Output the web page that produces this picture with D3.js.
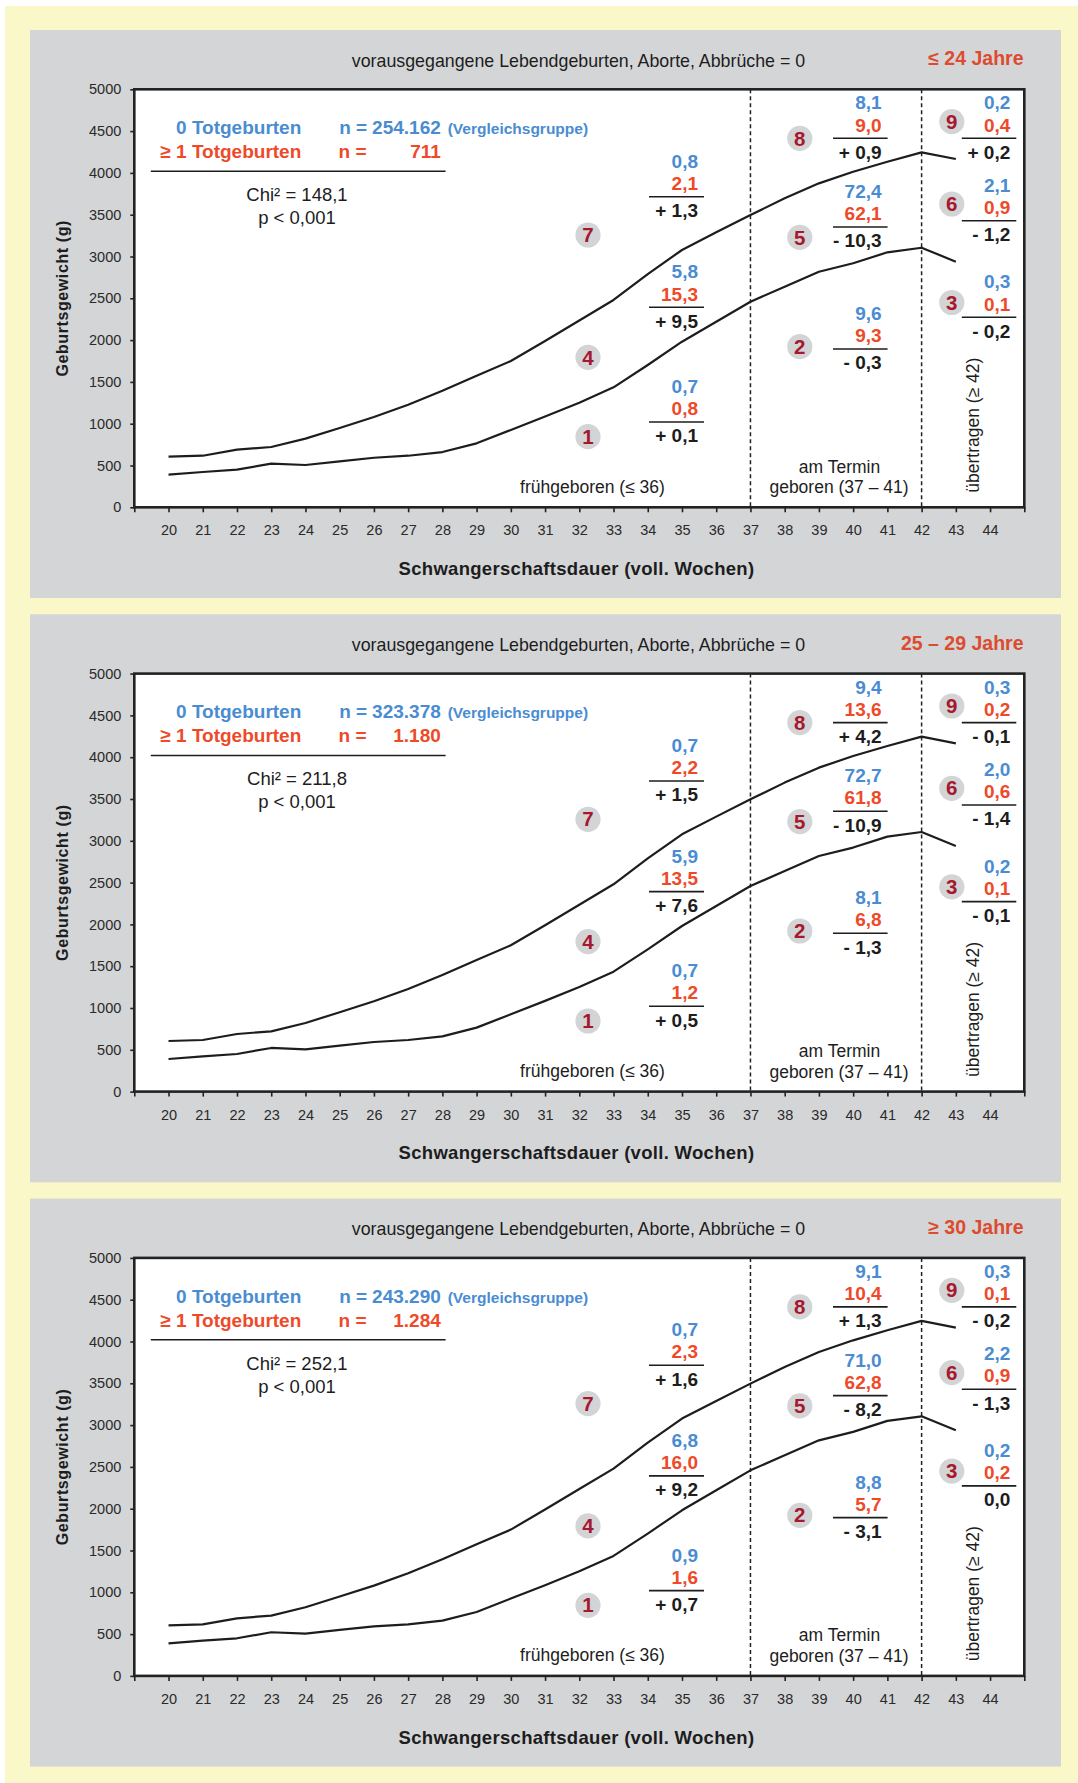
<!DOCTYPE html>
<html><head><meta charset="utf-8">
<script src="https://cdn.jsdelivr.net/npm/d3@7"></script>
<style>
html,body{margin:0;padding:0;background:#fff;}
svg{display:block;}
text{font-family:"Liberation Sans",Arial,Helvetica,sans-serif;}
</style></head><body>
<svg id="chart" width="1078" height="1783"></svg>
<script>
// Gestational age (completed weeks) and reference birth-weight curves (g)
const weeks      = [20,21,22,23,24,25,26,27,28,29,30,31,32,33,34,35,36,37,38,39,40,41,42,43];
const upperCurve = [605,617,689,721,821,949,1080,1227,1395,1574,1750,1990,2235,2480,2790,3078,3289,3496,3696,3875,4014,4134,4246,4166];
const lowerCurve = [390,422,450,522,506,550,593,617,661,765,925,1085,1251,1435,1702,1981,2220,2459,2639,2818,2919,3050,3105,2938];

const tickWeeks     = [19,20,21,22,23,24,25,26,27,28,29,30,31,32,33,34,35,36,37,38,39,40,41,42,43,44,45];
const labelledWeeks = [20,21,22,23,24,25,26,27,28,29,30,31,32,33,34,35,36,37,38,39,40,41,42,43,44];
const yTicks        = [0,500,1000,1500,2000,2500,3000,3500,4000,4500,5000];
const termBounds    = [37,42];

// One panel per maternal age group
const ageGroups   = ["≤ 24 Jahre", "25 – 29 Jahre", "≥ 30 Jahre"];
const nReference  = [254162, 323378, 243290];
const nStillbirth = [711, 1180, 1284];
const chiSquare   = [148.1, 211.8, 252.1];

// Cells 1..9 (percent of births); reference group, ≥1 stillbirth, difference
const cellIds = [1,2,3,4,5,6,7,8,9];
const shareReference = [
  [0.7, 9.6, 0.3, 5.8, 72.4, 2.1, 0.8, 8.1, 0.2],
  [0.7, 8.1, 0.2, 5.9, 72.7, 2.0, 0.7, 9.4, 0.3],
  [0.9, 8.8, 0.2, 6.8, 71.0, 2.2, 0.7, 9.1, 0.3]
];
const shareStillbirth = [
  [0.8, 9.3, 0.1, 15.3, 62.1, 0.9, 2.1, 9.0, 0.4],
  [1.2, 6.8, 0.1, 13.5, 61.8, 0.6, 2.2, 13.6, 0.2],
  [1.6, 5.7, 0.2, 16.0, 62.8, 0.9, 2.3, 10.4, 0.1]
];
const shareDiff = [
  [0.1, -0.3, -0.2, 9.5, -10.3, -1.2, 1.3, 0.9, 0.2],
  [0.5, -1.3, -0.1, 7.6, -10.9, -1.4, 1.5, 4.2, -0.1],
  [0.7, -3.1, 0.0, 9.2, -8.2, -1.3, 1.6, 1.3, -0.2]
];

// ---- styling & layout ----
const C = {
  frame: "#faf7c9", panel: "#d4d5d7", blue: "#4a8cd2", red: "#ee4a2a",
  head: "#dd4b2f", badge: "#a5182e", badgeFill: "#d3d4d6", ink: "#1d1d1d", axis: "#222"
};
const de = d3.formatLocale({decimal: ",", thousands: ".", grouping: [3], currency: ["", "€"]});
const fmtN = de.format(",");
const fmt1 = v => v.toFixed(1).replace(".", ",");
const fmtDiff = v => v > 0 ? "+ " + fmt1(v) : v < 0 ? "- " + fmt1(-v) : fmt1(0);

const PANEL_X = 30, PANEL_W = 1031, PANEL_H = 568, PANEL_STEP = 584.3, PANEL_TOP0 = 30;
const PLOT_TOP = 59.3, PLOT_BOTTOM = 477.3;

// column geometry for badge + value stacks
const cols = {
  A: {cx: 588,   x0: 649,   x1: 704},
  B: {cx: 799.8, x0: 833,   x1: 887.6},
  C: {cx: 951.8, x0: 961.8, x1: 1016.3}
};
// per cell: column, badge centre y, rule y (relative to panel top)
const cellPos = {
  1: {col: "A", cy: 406.7, ly: 392},
  2: {col: "B", cy: 316.7, ly: 319},
  3: {col: "C", cy: 272.5, ly: 287.3},
  4: {col: "A", cy: 327.3, ly: 277.3},
  5: {col: "B", cy: 207.3, ly: 197},
  6: {col: "C", cy: 174,   ly: 190.7},
  7: {col: "A", cy: 205,   ly: 166.7},
  8: {col: "B", cy: 108.3, ly: 108.3},
  9: {col: "C", cy: 91.7,  ly: 108.3}
};

const svg = d3.select("#chart");
svg.append("rect").attr("x", 5).attr("y", 6).attr("width", 1073).attr("height", 1777).attr("fill", C.frame);

const x = d3.scaleLinear().domain([19, 45]).range([134.3, 1024.3]);
const y = d3.scaleLinear().domain([0, 5000]).range([PLOT_BOTTOM, PLOT_TOP]);

ageGroups.forEach((age, p) => {
  const g = svg.append("g").attr("transform", `translate(0,${PANEL_TOP0 + p * PANEL_STEP})`);

  g.append("rect").attr("x", PANEL_X).attr("y", 0).attr("width", PANEL_W).attr("height", PANEL_H).attr("fill", C.panel);
  g.append("rect").attr("x", x(19)).attr("y", PLOT_TOP).attr("width", x(45) - x(19)).attr("height", PLOT_BOTTOM - PLOT_TOP)
    .attr("fill", "#fff");

  // header
  g.append("text").attr("x", 578.5).attr("y", 36.7).attr("text-anchor", "middle")
    .attr("font-size", 17.8).attr("fill", C.ink).text("vorausgegangene Lebendgeburten, Aborte, Abbrüche = 0");
  g.append("text").attr("x", 1023.5).attr("y", 35.3).attr("text-anchor", "end")
    .attr("font-size", 19.5).attr("font-weight", "bold").attr("fill", C.head).text(age);

  // term boundaries
  termBounds.forEach(w => {
    g.append("line").attr("x1", x(w)).attr("x2", x(w)).attr("y1", PLOT_TOP).attr("y2", PLOT_BOTTOM)
      .attr("stroke", C.axis).attr("stroke-width", 1.5).attr("stroke-dasharray", "4,3");
  });

  // curves
  const line = d3.line().x((d, i) => x(weeks[i])).y(d => y(d));
  [upperCurve, lowerCurve].forEach(series => {
    g.append("path").datum(series).attr("d", line).attr("fill", "none")
      .attr("stroke", C.ink).attr("stroke-width", 2.2).attr("stroke-linejoin", "round");
  });

  // axes
  const yAxis = d3.axisLeft(y).tickValues(yTicks).tickSize(4).tickPadding(9).tickFormat(d3.format("d"));
  const ya = g.append("g").attr("transform", `translate(${x(19)},0)`).call(yAxis);
  const xAxis = d3.axisBottom(x).tickValues(tickWeeks).tickSize(5).tickPadding(6)
    .tickFormat(d => labelledWeeks.includes(d) ? d : "");
  const xa = g.append("g").attr("transform", `translate(0,${PLOT_BOTTOM})`).call(xAxis);
  [ya, xa].forEach(a => {
    a.select(".domain").remove();
    a.selectAll("line").attr("stroke", C.axis).attr("stroke-width", 1.6);
    a.selectAll("text").attr("font-size", 14.5).attr("fill", "#2a2a2a")
      .attr("font-family", '"Liberation Sans",Arial,sans-serif');
  });
  xa.selectAll("text").attr("dy", null).attr("y", 28);

  // plot frame
  g.append("rect").attr("x", x(19)).attr("y", PLOT_TOP).attr("width", x(45) - x(19)).attr("height", PLOT_BOTTOM - PLOT_TOP)
    .attr("fill", "none").attr("stroke", C.axis).attr("stroke-width", 2.6);

  // axis titles
  g.append("text").attr("transform", `translate(68,${(PLOT_TOP + PLOT_BOTTOM) / 2}) rotate(-90)`).attr("text-anchor", "middle")
    .attr("font-size", 16).attr("font-weight", "bold").attr("letter-spacing", 0.6).attr("fill", C.ink).text("Geburtsgewicht (g)");
  g.append("text").attr("x", 576.5).attr("y", 545).attr("text-anchor", "middle")
    .attr("font-size", 18.5).attr("font-weight", "bold").attr("letter-spacing", 0.3).attr("fill", C.ink)
    .text("Schwangerschaftsdauer (voll. Wochen)");

  // period labels
  g.append("text").attr("x", 592.5).attr("y", 462.7).attr("text-anchor", "middle").attr("font-size", 17.5)
    .attr("fill", C.ink).text("frühgeboren (≤ 36)");
  g.append("text").attr("x", 839.5).attr("y", 442.7).attr("text-anchor", "middle").attr("font-size", 17.5)
    .attr("fill", C.ink).text("am Termin");
  g.append("text").attr("x", 839).attr("y", 463.3).attr("text-anchor", "middle").attr("font-size", 17.5)
    .attr("fill", C.ink).text("geboren (37 – 41)");
  g.append("text").attr("transform", `translate(979.3,462.7) rotate(-90)`).attr("font-size", 17.5)
    .attr("fill", C.ink).text("übertragen (≥ 42)");

  // legend
  const leg = g.append("g").attr("font-weight", "bold");
  leg.append("text").attr("x", 301.3).attr("y", 104).attr("text-anchor", "end").attr("font-size", 19)
    .attr("fill", C.blue).text("0 Totgeburten");
  leg.append("text").attr("x", 301.3).attr("y", 128).attr("text-anchor", "end").attr("font-size", 19)
    .attr("fill", C.red).text("≥ 1 Totgeburten");
  leg.append("text").attr("x", 339.2).attr("y", 104).attr("font-size", 19).attr("fill", C.blue).text("n =");
  leg.append("text").attr("x", 440.8).attr("y", 104).attr("text-anchor", "end").attr("font-size", 19)
    .attr("fill", C.blue).text(fmtN(nReference[p]));
  leg.append("text").attr("x", 447.7).attr("y", 104).attr("font-size", 15.5).attr("fill", C.blue).text("(Vergleichsgruppe)");
  leg.append("text").attr("x", 338.5).attr("y", 128).attr("font-size", 19).attr("fill", C.red).text("n =");
  leg.append("text").attr("x", 440.8).attr("y", 128).attr("text-anchor", "end").attr("font-size", 19)
    .attr("fill", C.red).text(fmtN(nStillbirth[p]));
  g.append("line").attr("x1", 150.8).attr("x2", 445.6).attr("y1", 141.2).attr("y2", 141.2)
    .attr("stroke", C.ink).attr("stroke-width", 1.6);
  g.append("text").attr("x", 297).attr("y", 171).attr("text-anchor", "middle").attr("font-size", 18.5)
    .attr("fill", C.ink).text("Chi² = " + fmt1(chiSquare[p]));
  g.append("text").attr("x", 297).attr("y", 194).attr("text-anchor", "middle").attr("font-size", 18.5)
    .attr("fill", C.ink).text("p < 0,001");

  // cells: badge + value stack
  cellIds.forEach((id, i) => {
    const pos = cellPos[id], col = cols[pos.col];
    g.append("circle").attr("cx", col.cx).attr("cy", pos.cy).attr("r", 12.6).attr("fill", C.badgeFill);
    g.append("text").attr("x", col.cx).attr("y", pos.cy + 7.2).attr("text-anchor", "middle")
      .attr("font-size", 20.5).attr("font-weight", "bold").attr("fill", C.badge).text(id);

    const tx = col.x1 - 6;
    const st = g.append("g").attr("font-weight", "bold").attr("font-size", 19).attr("text-anchor", "end");
    st.append("text").attr("x", tx).attr("y", pos.ly - 29).attr("fill", C.blue).text(fmt1(shareReference[p][i]));
    st.append("text").attr("x", tx).attr("y", pos.ly - 6.8).attr("fill", C.red).text(fmt1(shareStillbirth[p][i]));
    g.append("line").attr("x1", col.x0).attr("x2", col.x1).attr("y1", pos.ly).attr("y2", pos.ly)
      .attr("stroke", C.ink).attr("stroke-width", 1.6);
    st.append("text").attr("x", tx).attr("y", pos.ly + 20.3).attr("fill", C.ink).text(fmtDiff(shareDiff[p][i]));
  });
});
</script>
</body></html>
